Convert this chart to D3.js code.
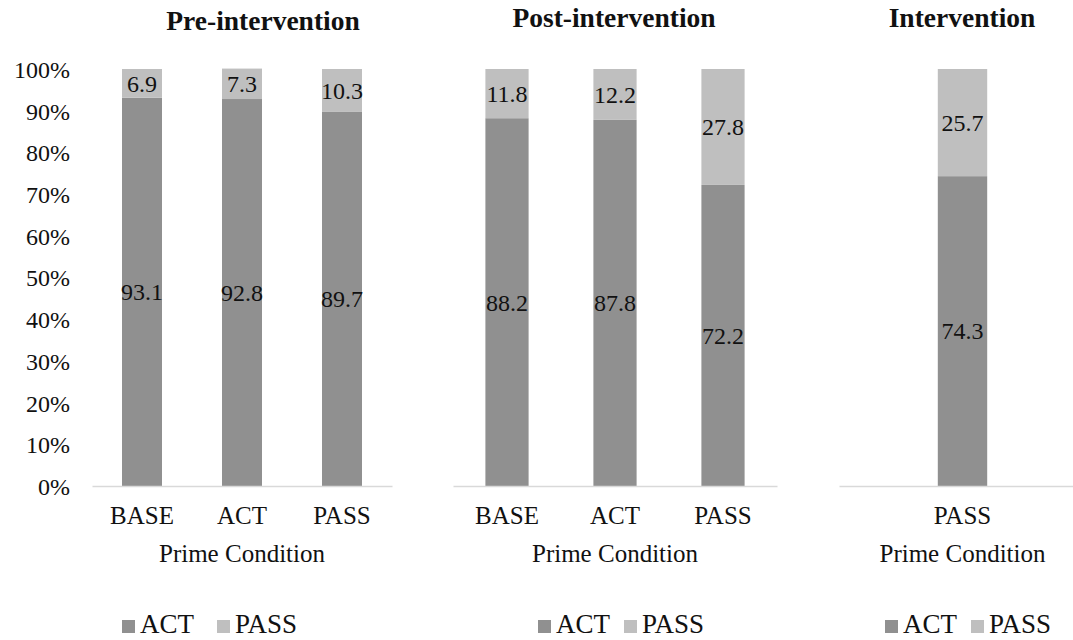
<!DOCTYPE html>
<html>
<head>
<meta charset="utf-8">
<script src="https://cdn.jsdelivr.net/npm/d3@7"></script>
</head>
<body style="margin:0;background:#fff">
<svg id="chart" width="1073" height="640" style="display:block"></svg>
<script>
// Response type shares (%) by prime condition, per study phase
const preCategories = ["BASE", "ACT", "PASS"];
const preAct = [93.1, 92.8, 89.7];
const prePass = [6.9, 7.3, 10.3];

const postCategories = ["BASE", "ACT", "PASS"];
const postAct = [88.2, 87.8, 72.2];
const postPass = [11.8, 12.2, 27.8];

const intCategories = ["PASS"];
const intAct = [74.3];
const intPass = [25.7];

const yTicks = [0, 10, 20, 30, 40, 50, 60, 70, 80, 90, 100];
const seriesNames = ["ACT", "PASS"];
const colors = { ACT: "#909090", PASS: "#bfbfbf" };

const FONT = '"Liberation Serif"';
const svg = d3.select("#chart");
const y = d3.scaleLinear().domain([0, 100]).range([486, 69]);

function serif(sel, size) {
  return sel.style("font-family", FONT).style("font-size", size + "px").style("fill", "#111");
}

// Shared percentage axis on the left
const yAxis = svg.append("g")
  .attr("transform", "translate(70,0)")
  .call(d3.axisLeft(y).tickValues(yTicks).tickFormat(d => d + "%").tickSize(0).tickPadding(0));
yAxis.select(".domain").remove();
serif(yAxis.selectAll("text"), 24).attr("dy", "0.35em");

const panels = [
  { title: "Pre-intervention", titleX: 263, titleY: 30, cats: preCategories, act: preAct, pass: prePass,
    range: [92, 392], barFrac: 0.4, legendX: 122, legendGap: 23 },
  { title: "Post-intervention", titleX: 614, titleY: 27, cats: postCategories, act: postAct, pass: postPass,
    range: [453, 777], barFrac: 0.4, legendX: 538, legendGap: 14 },
  { title: "Intervention", titleX: 962, titleY: 27, cats: intCategories, act: intAct, pass: intPass,
    range: [839, 1086], barFrac: 0.2, legendX: 885, legendGap: 14 }
];

panels.forEach(p => {
  const g = svg.append("g");
  const x = d3.scaleBand().domain(p.cats).range(p.range).padding(0);
  const bw = x.bandwidth() * p.barFrac;

  // Title
  serif(g.append("text"), 27.5)
    .attr("x", p.titleX).attr("y", p.titleY)
    .attr("text-anchor", "middle")
    .style("font-weight", "bold")
    .text(p.title);

  // Stacked segments with value labels
  const rows = p.cats.map((c, i) => ({ cat: c, ACT: p.act[i], PASS: p.pass[i] }));
  const stacked = d3.stack().keys(seriesNames)(rows);

  stacked.forEach(layer => {
    const key = layer.key;
    g.selectAll(null).data(layer).enter().append("rect")
      .attr("x", d => x(d.data.cat) + (x.bandwidth() - bw) / 2)
      .attr("y", d => y(d[1]))
      .attr("width", bw)
      .attr("height", d => y(d[0]) - y(d[1]))
      .attr("fill", colors[key]);

    serif(g.selectAll(null).data(layer).enter().append("text"), 24)
      .attr("x", d => x(d.data.cat) + x.bandwidth() / 2)
      .attr("y", d => y((d[0] + d[1]) / 2))
      .attr("dy", "0.35em")
      .attr("text-anchor", "middle")
      .text(d => d.data[key].toFixed(1));
  });

  // Category axis
  const xAxis = g.append("g")
    .attr("transform", "translate(0,486)")
    .call(d3.axisBottom(x).tickSize(0).tickPadding(0));
  xAxis.select(".domain").attr("stroke", "#d9d9d9").attr("stroke-width", 1.5);
  serif(xAxis.selectAll("text"), 25)
    .attr("dy", null)
    .attr("y", 38);

  // Axis title, centred under the middle category
  serif(g.append("text"), 25)
    .attr("x", x(p.cats[Math.floor(p.cats.length / 2)]) + x.bandwidth() / 2)
    .attr("y", 562)
    .attr("text-anchor", "middle")
    .text("Prime Condition");

  // Legend
  const lg = g.append("g").attr("transform", `translate(${p.legendX},620)`);
  let lx = 0;
  seriesNames.forEach(name => {
    lg.append("rect").attr("x", lx).attr("y", 0).attr("width", 13).attr("height", 13).attr("fill", colors[name]);
    const t = serif(lg.append("text"), 27).attr("x", lx + 18).attr("y", 13).text(name);
    lx += 18 + t.node().getComputedTextLength() + p.legendGap;
  });
});
</script>
</body>
</html>
